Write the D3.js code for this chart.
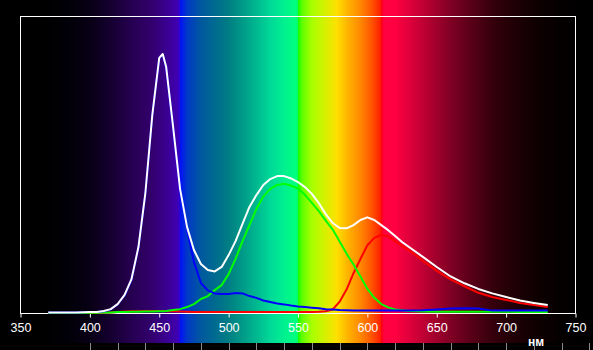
<!DOCTYPE html>
<html>
<head>
<meta charset="utf-8">
<script src="https://cdn.jsdelivr.net/npm/d3@7"></script>
<style>
  html,body{margin:0;padding:0;background:#000;}
  svg{display:block;}
</style>
</head>
<body>
<div id="chart"></div>
<script>
// spectrum of a white LED and its R/G/B components, relative units
var wavelengths=[370,380,390,400,405,410,415,420,425,430,435,440,445,450,452.5,455,460,465,470,475,480,485,490,495,500,505,510,515,520,525,530,535,540,545,550,555,560,565,570,575,580,585,590,595,600,605,610,615,620,625,630,640,650,660,670,680,690,700,710,720,730];
var whiteVals=[0.2,0.2,0.2,0.3,0.3,0.7,1.3,3.0,6.1,11.4,22.2,40.4,66.7,85.9,87.2,82.8,62.6,41.8,29.0,21.2,16.5,14.5,14.0,15.5,19.5,24.2,30.0,35.7,39.7,43.1,45.1,46.1,46.1,45.3,44.1,42.4,40.1,37.0,33.3,30.3,28.6,28.5,29.6,31.3,32.2,31.3,29.6,27.9,25.9,23.9,22.2,18.9,15.5,12.3,10.0,8.1,6.6,5.4,4.2,3.4,2.7];
var blueVals=[0.2,0.2,0.2,0.3,0.3,0.6,1.2,2.9,5.9,11.2,22.0,40.2,66.5,85.7,87.0,82.6,62.3,41.5,28.3,17.2,10.1,7.6,6.6,6.4,6.4,6.7,6.6,5.7,5.1,4.2,3.7,3.2,2.9,2.5,2.2,2.0,1.8,1.6,1.3,1.2,1.0,0.9,0.8,0.8,0.8,0.8,0.8,0.8,0.8,0.8,0.8,0.9,1.2,1.5,1.6,1.5,0.8,0.8,0.8,0.8,0.8];
var greenVals=[0,0,0,0.1,0.1,0.2,0.2,0.3,0.3,0.4,0.4,0.5,0.5,0.6,0.6,0.7,1.0,1.3,2.0,3.0,4.7,5.7,7.7,9.4,13.1,18.2,24.2,29.6,35.0,39.2,41.8,43.1,43.5,42.9,41.9,39.8,37.1,34.3,31.1,28.1,24.1,20.0,16.3,12.3,8.1,5.1,3.0,1.9,1.2,0.9,0.7,0.5,0.45,0.45,0.45,0.4,0.4,0.4,0.3,0.3,0.3];
var redVals=[0,0,0,0.1,0.1,0.1,0.2,0.3,0.5,0.6,0.6,0.7,0.7,0.7,0.7,0.6,0.6,0.5,0.4,0.3,0.3,0.3,0.3,0.3,0.3,0.3,0.3,0.3,0.3,0.3,0.3,0.3,0.3,0.3,0.3,0.3,0.3,0.4,0.6,1.2,3.8,7.9,13.4,18.2,22.8,25.3,26.3,25.8,24.2,22.6,21.1,17.6,14.2,11.3,9.0,6.8,5.4,4.4,3.4,2.7,2.0];

// background spectrum strip
var spectrumNm=[335,370,385,400,415,430,445,455,463,464.6,465,470,480,490,500,510,520,530,540,548,549.6,550,553,560,570,578,585,595,603,609.4,610,612,620,630,645,660,675,690,705,720,740,755,765];
var spectrumCol=['#000000','#000000','#020008','#080015','#150030','#260050','#33006e','#3a0090','#4000b0','#3000d0','#0010f8','#0038c8','#00589e','#006a90','#007e84','#009a88','#00b890','#00d898','#00f090','#00ff80','#00ff70','#10ff00','#60ff00','#a8ff00','#d8f000','#ffe000','#ffb800','#ff8800','#ff5500','#ff2000','#ff0010','#ff0040','#ff0040','#e0003c','#b00030','#800024','#580018','#36000c','#200006','#100002','#040000','#000000','#000000'];

var xTicks=[350,400,450,500,550,600,650,700,750];
var rulerTicks=d3.range(400,761,20);
var unitLabel='нм';

var W=593,H=350;
var x=d3.scaleLinear().domain([350,750]).range([20.5,575.5]);
var y=d3.scaleLinear().domain([0,100]).range([313,16]);

var svg=d3.select('#chart').append('svg').attr('width',W).attr('height',H);
svg.append('rect').attr('width',W).attr('height',H).attr('fill','#000');

var grad=svg.append('defs').append('linearGradient').attr('id','spec')
  .attr('gradientUnits','userSpaceOnUse').attr('x1',0).attr('x2',W).attr('y1',0).attr('y2',0);
spectrumNm.forEach(function(nm,i){
  grad.append('stop').attr('offset',Math.max(0,Math.min(1,x(nm)/W))).attr('stop-color',spectrumCol[i]);
});
svg.append('rect').attr('x',0).attr('y',0).attr('width',W).attr('height',343).attr('fill','url(#spec)');

// frame
svg.append('rect').attr('x',20.5).attr('y',16.5).attr('width',555).attr('height',297)
  .attr('fill','none').attr('stroke','#fff').attr('stroke-width',1);

// x axis
var ax=svg.append('g').attr('transform','translate(0,313.5)')
  .call(d3.axisBottom(x).tickValues(xTicks).tickSize(4).tickPadding(6).tickFormat(d3.format('d')));
ax.select('.domain').remove();
ax.selectAll('line').attr('stroke','#fff');
ax.selectAll('text').attr('fill','#fff').attr('font-size','12.5px')
  .attr('font-family','"Liberation Sans",Arial,sans-serif');

svg.append('text').attr('x',536).attr('y',345.5).attr('text-anchor','middle')
  .attr('font-size','12px').attr('font-weight','bold').attr('fill','#fff')
  .attr('font-family','"Liberation Sans",Arial,sans-serif').text(unitLabel);

// ruler ticks under the strip
svg.append('g').selectAll('line').data(rulerTicks).enter().append('line')
  .attr('x1',function(d){return Math.round(x(d))+0.5}).attr('x2',function(d){return Math.round(x(d))+0.5})
  .attr('y1',343).attr('y2',350).attr('stroke','#8c8c8c').attr('stroke-width',1);

// curves
var series=[
  {vals:redVals,color:'#ff0000'},
  {vals:greenVals,color:'#00ff00'},
  {vals:blueVals,color:'#0000ff'},
  {vals:whiteVals,color:'#ffffff'}
];
var line=d3.line().x(function(d){return x(d[0])}).y(function(d){return y(d[1])});
series.forEach(function(s){
  var pts=wavelengths.map(function(w,i){return [w,s.vals[i]]});
  svg.append('path').datum(pts).attr('d',line).attr('fill','none')
    .attr('stroke',s.color).attr('stroke-width',2).attr('stroke-linejoin','round');
});
</script>
</body>
</html>
